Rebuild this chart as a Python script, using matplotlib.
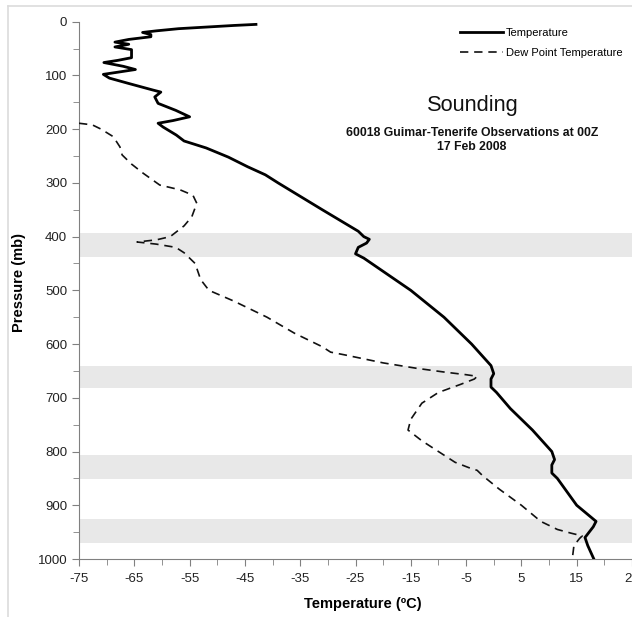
import numpy as np
import matplotlib
matplotlib.use("Agg")
import matplotlib.pyplot as plt
from matplotlib.lines import Line2D

plt.rcParams['font.family'] = ['Liberation Sans', 'DejaVu Sans']
plt.rcParams['axes.unicode_minus'] = False

W, H = 632, 617

# temperature profile (pressure in mb, temperature in C)
temp_p = [5, 7, 10, 13, 17, 20, 24, 28, 33, 38, 42, 47, 52, 60, 67, 72, 76,
          83, 89, 94, 98, 105, 115, 127, 131, 140, 152, 165, 177, 184, 189,
          196, 211, 222, 235, 252, 270, 285, 300, 350, 390, 400, 405, 412,
          420, 432, 440, 500, 550, 600, 640, 655, 665, 680, 690, 720, 760,
          800, 815, 825, 840, 850, 900, 930, 940, 960, 975, 1000]
temp_t = [-43, -47, -52, -57, -61, -63.5, -62, -62, -66, -68.5, -66, -68.5,
          -65.5, -65.5, -65.5, -68, -70.5, -67, -64.8, -68, -70.6, -69.5, -66,
          -61.7, -60.2, -61.3, -60.7, -57.5, -55, -58, -60.7, -59.8, -57.4,
          -56, -52, -48, -44.5, -41.3, -39, -31, -24.5, -23.5, -22.5, -23,
          -24.5, -25, -23.5, -15, -9, -4, -0.5, 0, -0.5, -0.5, 0.5, 3, 7,
          10.5, 11, 10.5, 10.5, 11.5, 15, 18.5, 18, 16.5, 17, 18.1]

# dew point profile
dew_p = [189, 192, 200, 214, 233, 248, 265, 282, 304, 313, 323, 338, 363, 380,
         400, 406, 410, 414, 420, 430, 450, 480, 500, 520, 550, 580, 605, 615,
         620, 635, 645, 652, 657, 660, 665, 675, 690, 710, 740, 760, 780, 800,
         820, 830, 835, 845, 870, 900, 930, 945, 952, 957, 962, 975, 1000]
dew_t = [-75, -72.6, -71, -68.8, -67.6, -67.2, -65.5, -63.4, -60.4, -56.7,
         -54.4, -53.7, -54.6, -56, -58.5, -61, -64.5, -61, -57.5, -56, -54,
         -53, -51.5, -47, -41, -36, -31, -29.5, -27, -20, -14, -9, -5, -3,
         -3.5, -6, -10, -13, -15, -15.5, -13, -10, -7, -4.5, -3, -2, 1, 5,
         8.5, 11.5, 14, 16, 15.5, 14.5, 14.2]

# shaded pressure layers
bands = [(393, 437), (640, 682), (807, 852), (925, 970)]

fig = plt.figure(figsize=(W / 100, H / 100), dpi=100)
ax = fig.add_axes([79 / W, 1 - 559 / H, 1 - 79 / W, (559 - 21.7) / H])

# excel style chart border
fig.add_artist(Line2D([8 / W, 1], [1 - 6 / H, 1 - 6 / H], color='#dcdcdc', lw=1.2))
fig.add_artist(Line2D([8 / W, 8 / W], [0, 1 - 6 / H], color='#dcdcdc', lw=1.2))

for lo, hi in bands:
    ax.axhspan(lo, hi, color='#e8e8e8', lw=0, zorder=0)

ax.plot(temp_t, temp_p, color='black', lw=2.0, label='Temperature', zorder=3)
ax.plot(dew_t, dew_p, color='#111111', lw=1.2, ls=(0, (5, 3.5)),
        label='Dew Point Temperature', zorder=3)

ax.set_xlim(-75, 25)
ax.set_ylim(1000, 0)
ax.set_xticks(np.arange(-75, 26, 10))
ax.set_xticks(np.arange(-70, 26, 10), minor=True)
ax.set_yticks(np.arange(0, 1001, 100))
ax.set_yticks(np.arange(50, 1000, 100), minor=True)

for s in ['top', 'right']:
    ax.spines[s].set_visible(False)
for s in ['left', 'bottom']:
    ax.spines[s].set_color('#808080')
ax.tick_params(which='both', color='#808080', labelsize=9.5, labelcolor='#222222')
ax.tick_params(which='major', length=5)
ax.tick_params(which='minor', length=4)
ax.tick_params(axis='x', pad=5)

ax.set_xlabel('Temperature (ºC)', fontsize=10.5, fontweight='bold')
ax.xaxis.set_label_coords((363 - 79) / 553, (559 - 597) / 537.3)
ax.set_ylabel('Pressure (mb)', fontsize=10.5, fontweight='bold')
ax.yaxis.set_label_coords((26 - 79) / 553, 1 - (282 - 21.7) / 537.3)

fig.legend(*ax.get_legend_handles_labels(), loc='upper left',
           bbox_to_anchor=(449.5 / W, 1 - 17.5 / H), frameon=False,
           fontsize=8, handlelength=3.9, handletextpad=0.25, labelspacing=0.97)

fig.text(473 / W, 1 - 105 / H, 'Sounding', ha='center', va='center',
         fontsize=15.7, color='#111111')
fig.text(472 / W, 1 - 127 / H, '60018 Guimar-Tenerife Observations at 00Z\n17 Feb 2008',
         ha='center', va='top', fontsize=8.8, fontweight='bold',
         color='#111111', linespacing=1.2)

fig.savefig('out.png', dpi=100)
